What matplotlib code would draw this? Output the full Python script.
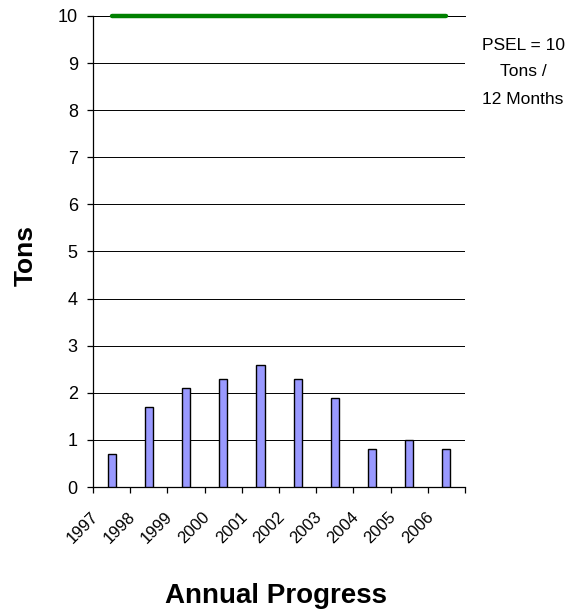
import numpy as np
import matplotlib.pyplot as plt

plt.rcParams['font.family'] = ['Liberation Sans', 'DejaVu Sans']

# Annual tonnage against the permit limit
years = ['1997', '1998', '1999', '2000', '2001', '2002', '2003', '2004', '2005', '2006']
tons = [0.7, 1.7, 2.1, 2.3, 2.6, 2.3, 1.9, 0.8, 1.0, 0.8]
psel_limit = 10
y_ticks = list(range(0, 11))
note_lines = ['PSEL = 10', 'Tons /', '12 Months']

fig = plt.figure(figsize=(5.78, 6.14), dpi=100)
ax = fig.add_axes([0.161, 0.2068, 0.6435, 0.7672])

centers = np.arange(len(years)) + 0.5
ax.bar(centers, tons, width=0.22, color='#9999FF', edgecolor='black',
       linewidth=1.0, zorder=3)

# permit limit line across all years
ax.plot(centers, [psel_limit] * len(years), color='#008000', linewidth=3.2,
        solid_capstyle='round', zorder=4, clip_on=False)

ax.set_xlim(0, len(years))
ax.set_ylim(0, 10)
ax.set_yticks(y_ticks)
ax.set_yticklabels([str(v) for v in y_ticks], fontsize=13)
ax.yaxis.grid(True, color='black', linewidth=0.7, zorder=0)
ax.set_axisbelow(True)

# tick marks on category boundaries, slanted year labels just right of them
ax.set_xticks(np.arange(len(years) + 1))
ax.set_xticklabels([])
ax.set_xticks(np.arange(len(years)) + 0.08, minor=True)
ax.set_xticklabels(years, minor=True, fontsize=12, rotation=45, ha='right',
                   va='center', rotation_mode='anchor')

ax.spines['right'].set_visible(False)
ax.spines['top'].set_color('black')
ax.spines['top'].set_linewidth(0.7)
ax.spines['left'].set_linewidth(0.9)
ax.spines['bottom'].set_linewidth(0.9)

ax.tick_params(axis='y', direction='out', length=4, width=0.9, pad=7)
ax.tick_params(axis='x', which='major', direction='out', length=4, width=0.9)
ax.tick_params(axis='x', which='minor', length=0, pad=20)

fig.text(0.478, 0.0179, 'Annual Progress', fontsize=20, fontweight='bold',
         ha='center', va='baseline')
fig.text(0.045, 0.584, 'Tons', fontsize=19, fontweight='bold',
         rotation=90, ha='center', va='center')

# limit note, one line per text
for i, line in enumerate(note_lines):
    fig.text(0.905, 1 - (49.5 + 27 * i) / 614, line, fontsize=12.5,
             ha='center', va='baseline')

fig.savefig('out.png', dpi=100)
